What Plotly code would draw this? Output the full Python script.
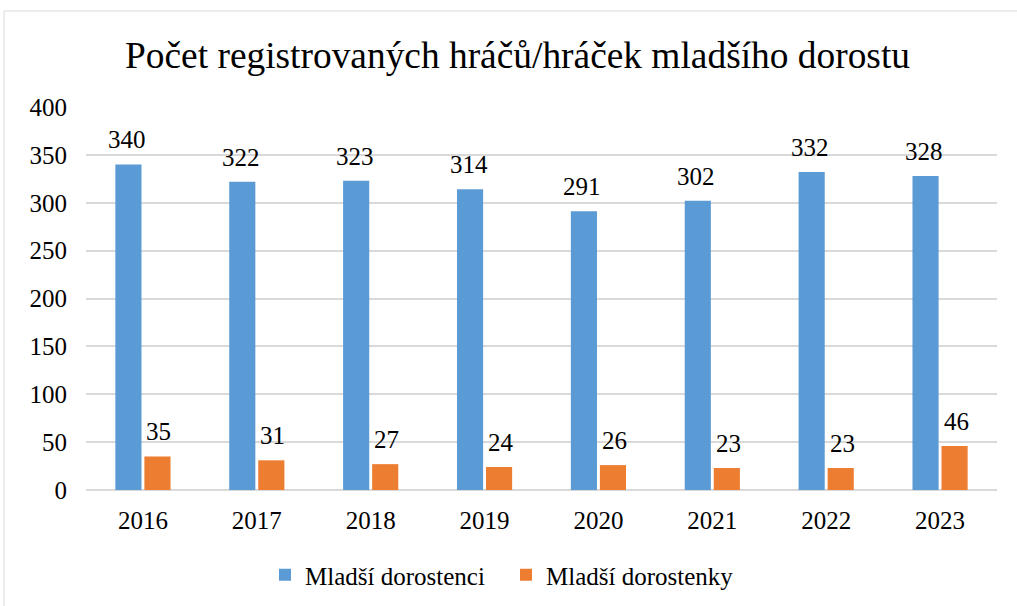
import plotly.graph_objects as go

years = ["2016", "2017", "2018", "2019", "2020", "2021", "2022", "2023"]
dorostenci = [340, 322, 323, 314, 291, 302, 332, 328]
dorostenky = [35, 31, 27, 24, 26, 23, 23, 46]
series_names = ["Mladší dorostenci", "Mladší dorostenky"]
colors = ["#5B9BD5", "#ED7D31"]
y_ticks = [0, 50, 100, 150, 200, 250, 300, 350, 400]

FONT = "Liberation Serif, Times New Roman, serif"
W, H = 1017, 606
L, R, T, B = 86, 20, 107, 116

fig = go.Figure()
for name, vals, col in zip(series_names, [dorostenci, dorostenky], colors):
    fig.add_trace(go.Bar(x=years, y=vals, name=name, marker_color=col,
                         marker_line_width=0))

annotations = []
for vals, shift in [(dorostenci, -16), (dorostenky, 16)]:
    for i, v in enumerate(vals):
        # category axis: position by category index
        annotations.append(dict(x=i, y=v, text=str(v), showarrow=False,
                                xref="x", yref="y", yanchor="bottom",
                                xshift=shift, yshift=9,
                                font=dict(family=FONT, size=25, color="#000000")))

pw = W - L - R
ph = H - T - B
fig.add_shape(type="rect", xref="paper", yref="paper",
              x0=(4 - L) / pw, x1=(W + 5 - L) / pw,
              y0=-(B + 5) / ph, y1=1 + (T - 11) / ph,
              line=dict(color="#D9D9D9", width=1), layer="below")

fig.update_layout(
    width=W, height=H,
    margin=dict(l=L, r=R, t=T, b=B),
    paper_bgcolor="white", plot_bgcolor="white",
    title=dict(text="Počet registrovaných hráčů/hráček mladšího dorostu",
               x=517.5 / W, xanchor="center", xref="container",
               y=1 - 55 / H, yanchor="middle",
               font=dict(family=FONT, size=37.4, color="#000000")),
    barmode="group", bargap=0.49, bargroupgap=0.1,
    showlegend=True,
    legend=dict(orientation="h", x=265 / W, xanchor="left", xref="container",
                y=1 - 575 / H, yanchor="middle", yref="container",
                font=dict(family=FONT, size=25, color="#000000"),
                entrywidth=196, entrywidthmode="pixels",
                itemwidth=30, traceorder="normal"),
    annotations=annotations,
    font=dict(family=FONT, color="#000000"),
)
fig.update_yaxes(range=[0, 400], tickvals=y_ticks, showgrid=True,
                 gridcolor="#D9D9D9", gridwidth=1.5, zeroline=True,
                 zerolinecolor="#D9D9D9", zerolinewidth=1.5,
                 tickfont=dict(family=FONT, size=25, color="#000000"),
                 ticks="", ticklabelstandoff=18, fixedrange=True)
fig.update_xaxes(type="category", range=[-0.5, len(years) - 0.5],
                 showgrid=False, showline=False, ticks="",
                 tickfont=dict(family=FONT, size=25, color="#000000"),
                 ticklabelstandoff=13)

fig.write_html("out.html", config={"displayModeBar": False},
               post_script="document.body.style.margin='0';document.body.style.overflow='hidden';")
